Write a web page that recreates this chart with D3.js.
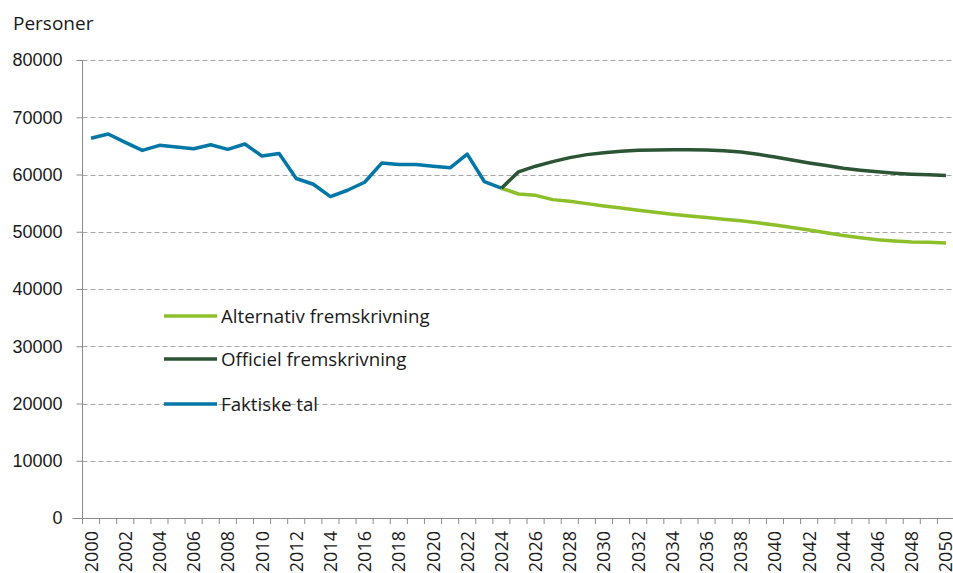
<!DOCTYPE html>
<html>
<head>
<meta charset="utf-8">
<script src="https://cdn.jsdelivr.net/npm/d3@7"></script>
<style>
  body { margin: 0; background: #fff; }
  svg { font-family: "Open Sans", "Noto Sans", sans-serif; }
</style>
</head>
<body>
<script>
// Years on the x axis
var years = d3.range(2000, 2051);

// Actual figures 2000-2024
var faktiskeYears = d3.range(2000, 2025);
var faktiske = [66320, 67080, 65610, 64210, 65090, 64800, 64500, 65200, 64390, 65320,
    63220, 63680, 59300, 58300, 56140, 57250, 58650, 61990, 61750, 61750,
    61460, 61170, 63570, 58770, 57600];

// Projections 2024-2050
var projYears = d3.range(2024, 2051);
var officiel = [57600, 60460, 61450, 62250, 62950, 63470, 63800, 64050, 64220, 64280,
    64340, 64340, 64280, 64160, 63930, 63530, 63060, 62540, 62020, 61560,
    61100, 60750, 60460, 60230, 60060, 59940, 59830];
var alternativ = [57600, 56590, 56360, 55610, 55320, 54910, 54510, 54160, 53760, 53410,
    53060, 52770, 52490, 52200, 51910, 51560, 51160, 50750, 50290, 49830,
    49360, 48960, 48610, 48380, 48210, 48150, 48040];

var yTicks = [0, 10000, 20000, 30000, 40000, 50000, 60000, 70000, 80000];

var legendItems = [
    { label: "Alternativ fremskrivning", color: "#8cbf2a" },
    { label: "Officiel fremskrivning", color: "#2b5534" },
    { label: "Faktiske tal", color: "#0077a6" }
];

var width = 953, height = 573;
var plotLeft = 82.5, plotRight = 954.5, plotTop = 60, plotBottom = 518;
var fontSize = 18;

var svg = d3.select("body").append("svg")
    .attr("width", width)
    .attr("height", height);

var x = d3.scaleBand().domain(years).range([plotLeft, plotRight]).padding(0);
var y = d3.scaleLinear().domain([0, 80000]).range([plotBottom, plotTop]);

function xc(yr) { return x(yr) + x.bandwidth() / 2; }

// Gridlines
svg.append("g")
    .selectAll("line")
    .data(yTicks.filter(function (d) { return d > 0; }))
    .enter().append("line")
    .attr("x1", plotLeft).attr("x2", width)
    .attr("y1", function (d) { return Math.round(y(d)) + 0.5; })
    .attr("y2", function (d) { return Math.round(y(d)) + 0.5; })
    .attr("stroke", "#a6a6a6")
    .attr("stroke-dasharray", "5,3");

// Y axis
var yAxis = svg.append("g")
    .attr("transform", "translate(" + plotLeft + ",0)")
    .call(d3.axisLeft(y).tickValues(yTicks).tickFormat(d3.format("d")).tickSize(6).tickPadding(14));
yAxis.select(".domain").attr("stroke", "#8c8c8c").attr("d", "M0," + plotTop + "V" + plotBottom);
yAxis.selectAll(".tick line").attr("stroke", "#8c8c8c");
yAxis.selectAll(".tick text").attr("font-size", fontSize).attr("fill", "#1a1a1a");

// X axis with ticks at category boundaries
var xg = svg.append("g");
xg.append("line")
    .attr("x1", plotLeft - 10).attr("x2", width)
    .attr("y1", plotBottom + 0.5).attr("y2", plotBottom + 0.5)
    .attr("stroke", "#8c8c8c");
xg.selectAll("line.tk")
    .data(years)
    .enter().append("line")
    .attr("class", "tk")
    .attr("x1", function (d) { return x(d); })
    .attr("x2", function (d) { return x(d); })
    .attr("y1", plotBottom).attr("y2", plotBottom + 6)
    .attr("stroke", "#8c8c8c");
xg.selectAll("text")
    .data(years.filter(function (d) { return d % 2 === 0; }))
    .enter().append("text")
    .attr("transform", function (d) { return "translate(" + (xc(d) + 6.5) + "," + (plotBottom + 13) + ") rotate(-90)"; })
    .attr("text-anchor", "end")
    .attr("font-size", fontSize)
    .attr("fill", "#1a1a1a")
    .text(function (d) { return d; });

// Axis title
svg.append("text")
    .attr("x", 13).attr("y", 30)
    .attr("font-size", 19)
    .attr("fill", "#1a1a1a")
    .text("Personer");

// Lines
var line = d3.line()
    .x(function (d) { return xc(d[0]); })
    .y(function (d) { return y(d[1]); });

function drawSeries(yrs, vals, color) {
    svg.append("path")
        .datum(d3.zip(yrs, vals))
        .attr("d", line)
        .attr("fill", "none")
        .attr("stroke", color)
        .attr("stroke-width", 3.5)
        .attr("stroke-linejoin", "round");
}
drawSeries(faktiskeYears, faktiske, legendItems[2].color);
drawSeries(projYears, alternativ, legendItems[0].color);
drawSeries(projYears, officiel, legendItems[1].color);

// Legend
var legend = svg.append("g")
    .selectAll("g")
    .data(legendItems)
    .enter().append("g")
    .attr("transform", function (d, i) { return "translate(164," + [316, 359, 404][i] + ")"; });
legend.append("line")
    .attr("x1", 0).attr("x2", 53)
    .attr("stroke", function (d) { return d.color; })
    .attr("stroke-width", 3.5);
legend.append("text")
    .attr("x", 57).attr("y", 6.5)
    .attr("font-size", 18.7)
    .attr("fill", "#1a1a1a")
    .text(function (d) { return d.label; });
</script>
</body>
</html>
